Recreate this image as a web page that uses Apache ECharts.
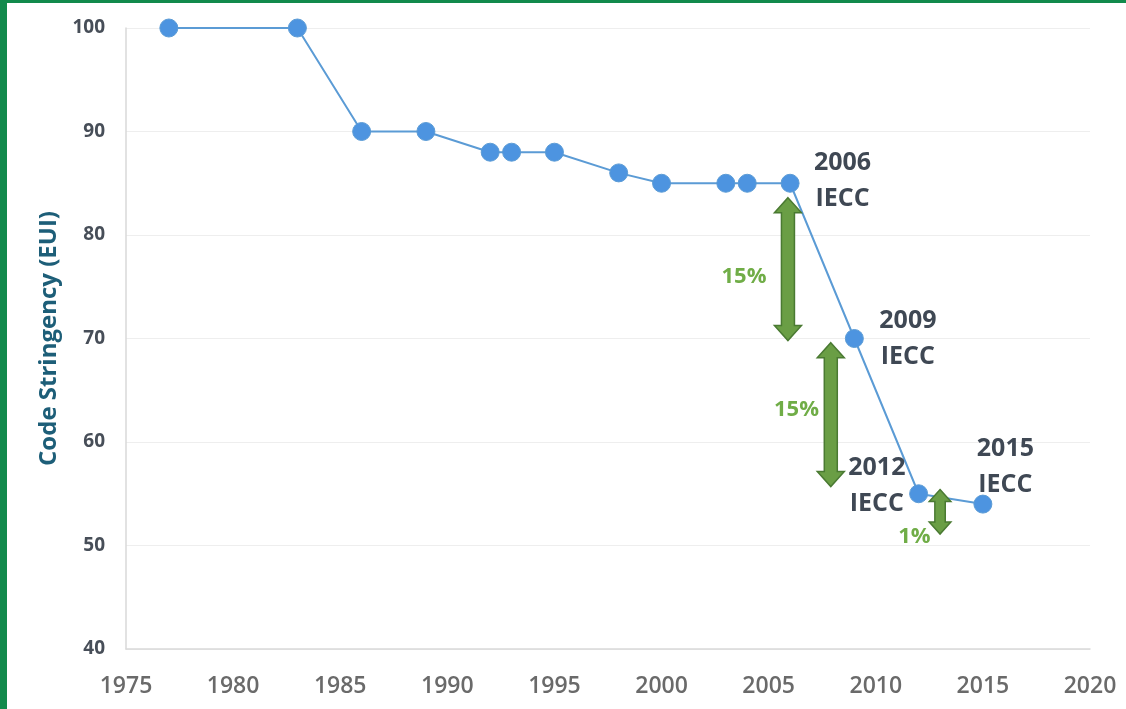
<!DOCTYPE html>
<html><head><meta charset="utf-8">
<script src="https://cdn.jsdelivr.net/npm/echarts@6/dist/echarts.min.js"></script>
<style>
html,body{margin:0;padding:0;background:#fff;}
#wrap{position:absolute;left:0;top:0;width:1126px;height:709px;box-sizing:border-box;border-left:7px solid #128a4c;border-top:3px solid #128a4c;background:#fff;}
#c{position:absolute;left:-7px;top:-3px;width:1126px;height:709px;}
</style></head>
<body><div id="wrap"><div id="c"></div></div>
<script>
const years = [1977,1983,1986,1989,1992,1993,1995,1998,2000,2003,2004,2006,2009,2012,2015];
const stringency = [100,100,90,90,88,88,88,86,85,85,85,85,70,55,54];
const xTicks = {min:1975, max:2020, step:5};
const yTicks = {min:40, max:100, step:10};
const codeLabels = [
  [2008.45, 85.2, '2006\nIECC'],
  [2011.5, 70.0, '2009\nIECC'],
  [2010.05, 55.75, '2012\nIECC'],
  [2016.05, 57.6, '2015\nIECC']
];
// arrows: x, top value, bottom value, relative size
const arrows = [
  [2005.9, 83.6, 69.8, 1],
  [2007.9, 69.6, 55.7, 1],
  [2013.0, 55.4, 51.1, 0.8]
];
const pctLabels = [
  [2003.85, 76.0, '15%'],
  [2006.3, 63.1, '15%'],
  [2011.8, 50.8, '1%']
];

const chart = echarts.init(document.getElementById('c'));
chart.setOption({
  backgroundColor:'transparent',
  animation:false,
  grid:{left:126, right:36, top:28, bottom:60},
  xAxis:{type:'value', min:xTicks.min, max:xTicks.max, interval:xTicks.step,
    axisLine:{show:true, lineStyle:{color:'#d9d9d9', width:1.5}},
    axisTick:{show:false}, splitLine:{show:false},
    axisLabel:{margin:26, color:'#6a6a6a', fontSize:23, fontWeight:600, formatter:v=>String(v),
      fontFamily:'"Open Sans",sans-serif'}},
  yAxis:{type:'value', min:yTicks.min, max:yTicks.max, interval:yTicks.step,
    name:'Code Stringency (EUI)', nameLocation:'middle', nameGap:65, nameRotate:90,
    nameTextStyle:{color:'#1d5e78', fontSize:24, fontWeight:'bold', fontFamily:'"Open Sans",sans-serif'},
    axisLine:{show:true, lineStyle:{color:'#d9d9d9', width:1.5}},
    axisTick:{show:false},
    splitLine:{lineStyle:{color:'#eeeeee', width:1}},
    axisLabel:{margin:21, color:'#474e58', fontSize:19, fontWeight:'bold', fontFamily:'"Open Sans",sans-serif'}},
  series:[
    {type:'line', data:years.map((y,i)=>[y,stringency[i]]),
      lineStyle:{color:'#5b9bd5', width:2}, symbol:'circle', symbolSize:18,
      itemStyle:{color:'#4d94e0', borderColor:'#5b9bd5', borderWidth:1}, z:2},
    {type:'custom', data:arrows, encode:{x:0,y:[1,2]}, z:5,
      renderItem:function(params, api){
        const t = api.coord([api.value(0), api.value(1)]);
        const b = api.coord([api.value(0), api.value(2)]);
        const s = api.value(3);
        const cx = t[0], sw = 6.5*s, hw = 13.5*s, hl = 15*s;
        return {type:'polygon', shape:{points:[
          [cx,t[1]],[cx+hw,t[1]+hl],[cx+sw,t[1]+hl],[cx+sw,b[1]-hl],[cx+hw,b[1]-hl],
          [cx,b[1]],[cx-hw,b[1]-hl],[cx-sw,b[1]-hl],[cx-sw,t[1]+hl],[cx-hw,t[1]+hl]]},
          style:{fill:'#6a9e45', stroke:'#4a7a32', lineWidth:1.5}};
      }},
    {type:'custom', data:codeLabels, encode:{x:0,y:1}, z:4,
      renderItem:function(params, api){
        const p = api.coord([api.value(0), api.value(1)]);
        return {type:'text', x:p[0], y:p[1], style:{text:codeLabels[params.dataIndex][2],
          fill:'#3f4854', fontSize:25, fontWeight:'bold', fontFamily:'"Open Sans",sans-serif',
          align:'center', verticalAlign:'middle', lineHeight:36}};
      }},
    {type:'custom', data:pctLabels, encode:{x:0,y:1}, z:6,
      renderItem:function(params, api){
        const p = api.coord([api.value(0), api.value(1)]);
        return {type:'text', x:p[0], y:p[1], style:{text:pctLabels[params.dataIndex][2],
          fill:'#70ad47', fontSize:22, fontWeight:'bold', fontFamily:'"Open Sans",sans-serif',
          align:'center', verticalAlign:'middle'}};
      }}
  ]
});
</script></body></html>
